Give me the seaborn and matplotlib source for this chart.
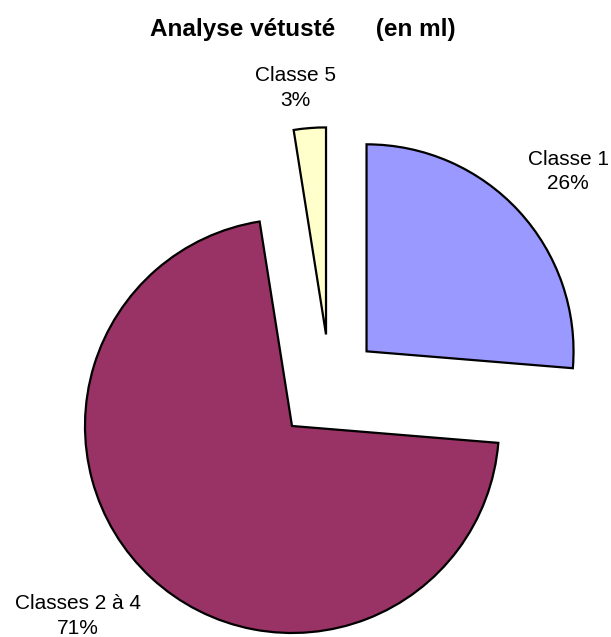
import matplotlib
matplotlib.use("Agg")
import matplotlib.pyplot as plt
import seaborn as sns

sns.set_theme(style="white")
plt.rcParams['font.family'] = ['Liberation Sans', 'DejaVu Sans']
plt.rcParams['text.color'] = 'black'

# data
classes = ["Classe 1", "Classes 2 à 4", "Classe 5"]
parts = [26.3, 71.2, 2.5]
pct_labels = ["26%", "71%", "3%"]
colors = ["#9999FF", "#993366", "#FFFFCC"]
explode = [0.24, 0.27, 0.245]

fig = plt.figure(figsize=(6.11, 6.37), dpi=100)
ax = fig.add_axes([0, 0, 1, 1])

labels = [f"{c}\n{p}" for c, p in zip(classes, pct_labels)]
wedges, texts = ax.pie(parts, labels=labels, colors=colors, explode=explode,
                       startangle=90, counterclock=False, radius=1,
                       wedgeprops=dict(edgecolor="black", linewidth=1.6),
                       textprops=dict(fontsize=15, color="black", ha="center",
                                      va="center", linespacing=1.35))

# label placement like the original (outside, irregular)
label_pos = [(1.15, 1.03), (-1.217, -1.116), (-0.169, 1.435)]
for t, pos in zip(texts, label_pos):
    t.set_position(pos)
    t.set_ha("center")
    t.set_va("center")

ax.set_aspect("auto")
ax.set_xlim(-330 / 207, (611 - 330) / 207)
ax.set_ylim(-(637 - 385) / 207, 385 / 207)
ax.axis("off")

fig.text(0.496, 0.953, "Analyse vétusté      (en ml)", ha="center", va="center",
         fontsize=17.5, fontweight="bold", color="black")

fig.savefig("out.png", dpi=100, facecolor="white")
